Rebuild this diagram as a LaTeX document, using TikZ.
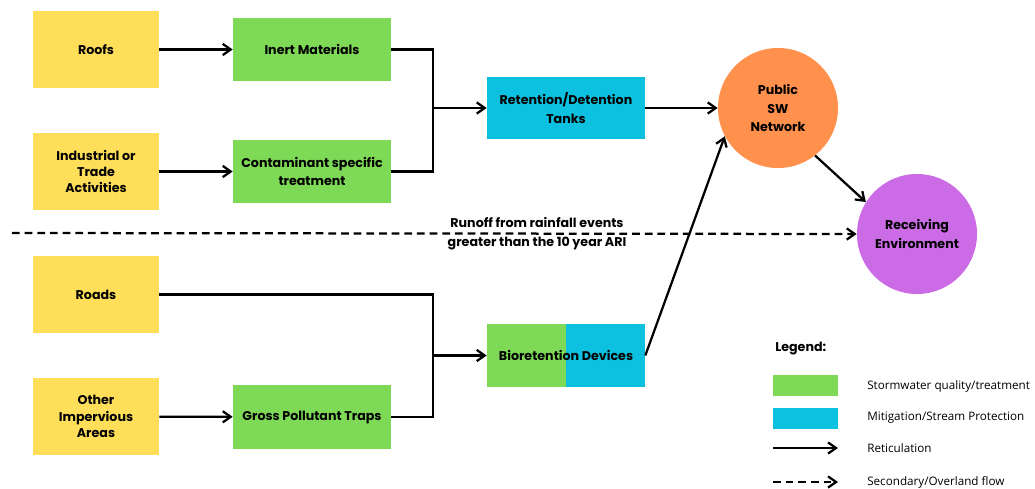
\documentclass[tikz,border=0pt]{standalone}
\usepackage{fontspec}
\setmainfont{Poppins}
\newfontfamily\legendfont{Open Sans}
\usetikzlibrary{arrows.meta, positioning}
\definecolor{srcyellow}{HTML}{FFDE59}
\definecolor{qgreen}{HTML}{7ED957}
\definecolor{mblue}{HTML}{0CC0DF}
\definecolor{netorange}{HTML}{FF914D}
\definecolor{envpurple}{HTML}{CB6CE6}

\begin{document}
\begin{tikzpicture}[
            x=0.025cm, y=-0.025cm,
            source/.style={rectangle, fill=srcyellow, minimum width=3.15cm, minimum height=1.925cm, align=center, font=\bfseries\fontsize{9}{11.5}\selectfont},
            treat/.style={rectangle, fill=qgreen, minimum width=3.95cm, minimum height=1.575cm, align=center, font=\bfseries\fontsize{9}{13}\selectfont},
            tank/.style={rectangle, fill=mblue, minimum width=3.95cm, minimum height=1.55cm, align=center, font=\bfseries\fontsize{9}{13}\selectfont},
            sink/.style={circle, minimum size=3cm, align=center, font=\bfseries\fontsize{9}{13}\selectfont},
            swatch/.style={rectangle, minimum width=1.625cm, minimum height=0.525cm},
            legtext/.style={anchor=west, inner sep=0pt, font=\legendfont\fontsize{8.3}{10}\selectfont},
            link/.style={line width=1.6pt},
            arrow/.style={line width=1.6pt, -{Straight Barb[length=2mm, width=2.8mm]}},
            dasharrow/.style={arrow, dash pattern=on 5.5pt off 3.5pt}
          ]
  \useasboundingbox (0,0) rectangle (1035,488);

  % Sources
  \node (roofs) [source] at (96,49.5) {Roofs};
  \node (trade) [source] at (96,171.5) {Industrial or\\Trade\\Activities};
  \node (roads) [source] at (96,294.5) {Roads};
  \node (other) [source] at (96,416.5) {Other\\Impervious\\Areas};

  % Treatment
  \node (inert) [treat] at (312,49.5) {Inert Materials};
  \node (contam) [treat] at (312,171.5) {Contaminant specific\\treatment};
  \node (gpt) [treat] at (312,417) {Gross Pollutant Traps};
  \node (tanks) [tank] at (566,108) {Retention/Detention\\Tanks};
  \node (bio) [tank, path picture={\fill[qgreen] (path picture bounding box.south west) rectangle (path picture bounding box.north);}] at (566,355.5) {Bioretention Devices};

  % Outlets
  \node (pub) [sink, fill=netorange] at (778,108) {Public\\SW\\Network};
  \node (recv) [sink, fill=envpurple] at (917,234) {Receiving\\Environment};

  % Connections
  \draw [arrow] (roofs) -- (inert);
  \draw [arrow] (trade) -- (contam);
  \draw [arrow] (other) -- (gpt);
  \coordinate (jtop) at (433,108);
  \coordinate (jbot) at (433,355.5);
  \draw [link] (inert.east) -| (jtop) |- (contam.east);
  \draw [link] (roads.east) -| (jbot) |- (gpt.east);
  \draw [arrow] (jtop) -- (tanks);
  \draw [arrow] (jbot) -- (bio);
  \draw [arrow] (tanks) -- (pub);
  \draw [arrow] (bio.east) -- (pub.208);
  \draw [arrow] (pub.-52) -- (recv.148);

  % Overflow
  \coordinate (runstart) at (12,233);
  \draw [dasharrow] (runstart) -- (recv.west);
  \node (runoff) [align=center, font=\bfseries\fontsize{9}{13.5}\selectfont] at (537,233.5) {Runoff from rainfall events\\greater than the 10 year ARI};

  % Legend
  \node (legtitle) [anchor=west, inner sep=0pt, font=\bfseries\fontsize{9}{11}\selectfont] at (775,349) {Legend:};
  \node (legq) [swatch, fill=qgreen] at (805.5,385.5) {};
  \node (legm) [swatch, fill=mblue] at (805.5,418) {};
  \coordinate (reta) at (773,448);
  \coordinate (retb) at (838,448);
  \coordinate (ova) at (773,482);
  \coordinate (ovb) at (838,482);
  \draw [arrow] (reta) -- (retb);
  \draw [dasharrow] (ova) -- (ovb);
  \node (legqt) [legtext] at (867,386) {Stormwater quality/treatment};
  \node (legmt) [legtext] at (867,418) {Mitigation/Stream Protection};
  \node (legrt) [legtext] at (867,448) {Reticulation};
  \node (legot) [legtext] at (867,482) {Secondary/Overland flow};

\end{tikzpicture}
\end{document}
